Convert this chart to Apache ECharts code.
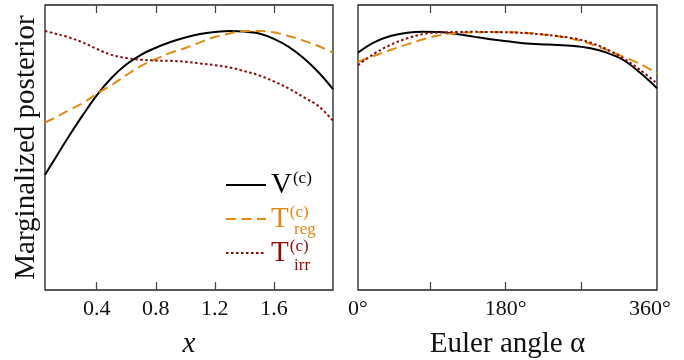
<!DOCTYPE html>
<html>
<head>
<meta charset="utf-8">
<script src="https://cdn.jsdelivr.net/npm/echarts@6/dist/echarts.min.js"></script>
<style>
  html, body { margin: 0; padding: 0; background: #fff; }
  #chart { width: 684px; height: 360px; }
</style>
</head>
<body>
<div id="chart"></div>
<script>
// left panel: posterior vs x
const xVals = [0.05, 0.1, 0.2, 0.3, 0.4, 0.5, 0.6, 0.7, 0.8, 0.9, 1.0, 1.1, 1.2, 1.3, 1.4, 1.5, 1.6, 1.7, 1.8, 1.9, 2.0];
const vLeft    = [40.4, 44.6, 53.0, 60.9, 68.3, 74.4, 79.1, 82.5, 85.0, 87.0, 88.6, 89.8, 90.5, 90.9, 90.7, 90.0, 88.1, 85.3, 81.4, 76.5, 70.5];
const tRegLeft = [58.7, 60.0, 62.8, 65.4, 68.8, 71.9, 75.4, 78.6, 81.0, 83.2, 84.9, 86.9, 88.8, 90.0, 90.9, 90.9, 90.4, 89.1, 87.5, 85.6, 83.3];
const tIrrLeft = [90.9, 90.2, 88.8, 87.0, 84.6, 82.5, 81.4, 80.8, 80.5, 80.4, 80.1, 79.5, 78.9, 78.1, 76.8, 75.3, 73.2, 70.7, 67.7, 64.6, 59.4];

// right panel: posterior vs Euler angle alpha (degrees)
const alphaVals = [4.5, 23, 43, 63, 82, 102, 122, 142, 162, 182, 201, 221, 241, 261, 281, 300, 320, 340, 360];
const vRight    = [83.3, 86.8, 89.1, 90.3, 90.6, 90.5, 89.8, 88.9, 88.0, 87.3, 86.6, 86.2, 86.0, 85.6, 84.8, 83.3, 80.7, 76.2, 70.8];
const tRegRight = [80.1, 82.1, 84.2, 86.2, 88.0, 89.4, 90.2, 90.4, 90.5, 90.5, 90.3, 89.8, 89.1, 88.0, 86.3, 84.2, 81.9, 79.3, 76.0];
const tIrrRight = [78.9, 82.8, 86.0, 88.3, 89.8, 90.4, 90.5, 90.6, 90.5, 90.4, 90.2, 89.7, 89.1, 88.3, 86.8, 84.5, 81.3, 77.2, 72.5];

const xTicks = [0.4, 0.8, 1.2, 1.6];
const alphaTicks = [90, 180, 270];
const alphaLabels = [4.5, 180, 360];

const SERIF = '"Liberation Serif", "DejaVu Serif", serif';
const BLACK = '#000';
const ORANGE = '#e08a14';
const DARKRED = '#8b0a0a';

const pairs = (xs, ys) => xs.map((x, i) => [x, ys[i]]);

const chart = echarts.init(document.getElementById('chart'));

const frameGrid = (left, width) => ({
  left: left, top: 5, width: width, height: 285,
  show: true, borderColor: '#222', borderWidth: 1.3,
  containLabel: false,
  outerBoundsMode: 'none'
});

const tickAxis = (gridIndex, min, max, ticks, position) => ({
  type: 'value',
  gridIndex: gridIndex,
  position: position,
  min: min, max: max,
  axisLine: { show: false },
  splitLine: { show: false },
  axisTick: { show: true, inside: true, length: 8, customValues: ticks, lineStyle: { color: '#444', width: 1.2 } },
  axisLabel: { show: false }
});

const lineSeries = (name, xi, data, color, type) => ({
  name: name,
  type: 'line',
  xAxisIndex: xi,
  yAxisIndex: xi,
  data: data,
  smooth: 0.35,
  symbol: 'none',
  lineStyle: { color: color, width: 2, type: type },
  itemStyle: { color: color },
  emphasis: { disabled: true },
  z: 3
});

const legendNames = {
  V: '{m|V}{s|(c)}',
  Treg: '{m|T}{s|(c)}',
  Tirr: '{m|T}{s|(c)}'
};

const DASH = [10, 5.5];
const DOT = [2.5, 2.5];

const alphaFormat = v => {
  if (v < 10) return '0°';
  if (v >= 360) return '{r|360°}';
  return Math.round(v) + '°';
};

chart.setOption({
  animation: false,
  backgroundColor: '#fff',
  grid: [frameGrid(45, 288), frameGrid(358, 299)],
  xAxis: [
    {
      type: 'value', gridIndex: 0, min: 0.05, max: 2.0,
      name: 'x', nameLocation: 'middle', nameGap: 40,
      nameTextStyle: { fontFamily: SERIF, fontStyle: 'italic', fontSize: 29, color: '#111' },
      axisLine: { show: false },
      splitLine: { show: false },
      axisTick: { show: true, inside: true, length: 8, customValues: xTicks, lineStyle: { color: '#444', width: 1.2 } },
      axisLabel: { customValues: xTicks, margin: 8, fontFamily: SERIF, fontSize: 22, color: '#111',
        formatter: v => v.toFixed(1) }
    },
    {
      type: 'value', gridIndex: 1, min: 4.5, max: 360,
      name: 'Euler angle α', nameLocation: 'middle', nameGap: 40,
      nameTextStyle: { fontFamily: SERIF, fontSize: 29, color: '#111' },
      axisLine: { show: false },
      splitLine: { show: false },
      axisTick: { show: true, inside: true, length: 8, customValues: alphaTicks, lineStyle: { color: '#444', width: 1.2 } },
      axisLabel: { customValues: alphaLabels, margin: 8, fontFamily: SERIF, fontSize: 22, color: '#111',
        formatter: alphaFormat,
        rich: { r: { fontFamily: SERIF, fontSize: 22, color: '#111', padding: [0, 14, 0, 0] } } }
    },
    tickAxis(0, 0.05, 2.0, xTicks, 'top'),
    tickAxis(1, 4.5, 360, alphaTicks, 'top')
  ],
  yAxis: [
    {
      type: 'value', gridIndex: 0, min: 0, max: 100,
      name: 'Marginalized posterior', nameLocation: 'middle', nameGap: 4,
      nameTextStyle: { fontFamily: SERIF, fontSize: 29, color: '#111' },
      axisLine: { show: false }, axisTick: { show: false }, axisLabel: { show: false }, splitLine: { show: false }
    },
    {
      type: 'value', gridIndex: 1, min: 0, max: 100,
      axisLine: { show: false }, axisTick: { show: false }, axisLabel: { show: false }, splitLine: { show: false }
    }
  ],
  legend: {
    orient: 'vertical',
    left: 225, top: 170, padding: 0,
    itemWidth: 40, itemHeight: 14, itemGap: 4,
    selectedMode: false,
    itemStyle: { opacity: 0, borderWidth: 0 },
    formatter: name => legendNames[name],
    textStyle: {
      fontFamily: SERIF, lineHeight: 30,
      rich: {
        m: { fontFamily: SERIF, fontSize: 29, lineHeight: 30 },
        s: { fontFamily: SERIF, fontSize: 17, lineHeight: 30, verticalAlign: 'top', padding: [0, 0, 10, 1] }
      }
    },
    data: [
      { name: 'V', textStyle: { color: BLACK } },
      { name: 'Treg', textStyle: { color: ORANGE } },
      { name: 'Tirr', textStyle: { color: DARKRED } }
    ]
  },
  graphic: [
    { type: 'text', left: 294, top: 221, style: { text: 'reg', fontFamily: SERIF, fontSize: 17, fill: ORANGE } },
    { type: 'text', left: 294, top: 257, style: { text: 'irr', fontFamily: SERIF, fontSize: 17, fill: DARKRED } }
  ],
  series: [
    lineSeries('V', 0, pairs(xVals, vLeft), BLACK, 'solid'),
    lineSeries('Treg', 0, pairs(xVals, tRegLeft), ORANGE, DASH),
    lineSeries('Tirr', 0, pairs(xVals, tIrrLeft), DARKRED, DOT),
    lineSeries('V', 1, pairs(alphaVals, vRight), BLACK, 'solid'),
    lineSeries('Treg', 1, pairs(alphaVals, tRegRight), ORANGE, DASH),
    lineSeries('Tirr', 1, pairs(alphaVals, tIrrRight), DARKRED, DOT)
  ]
});
</script>
</body>
</html>
